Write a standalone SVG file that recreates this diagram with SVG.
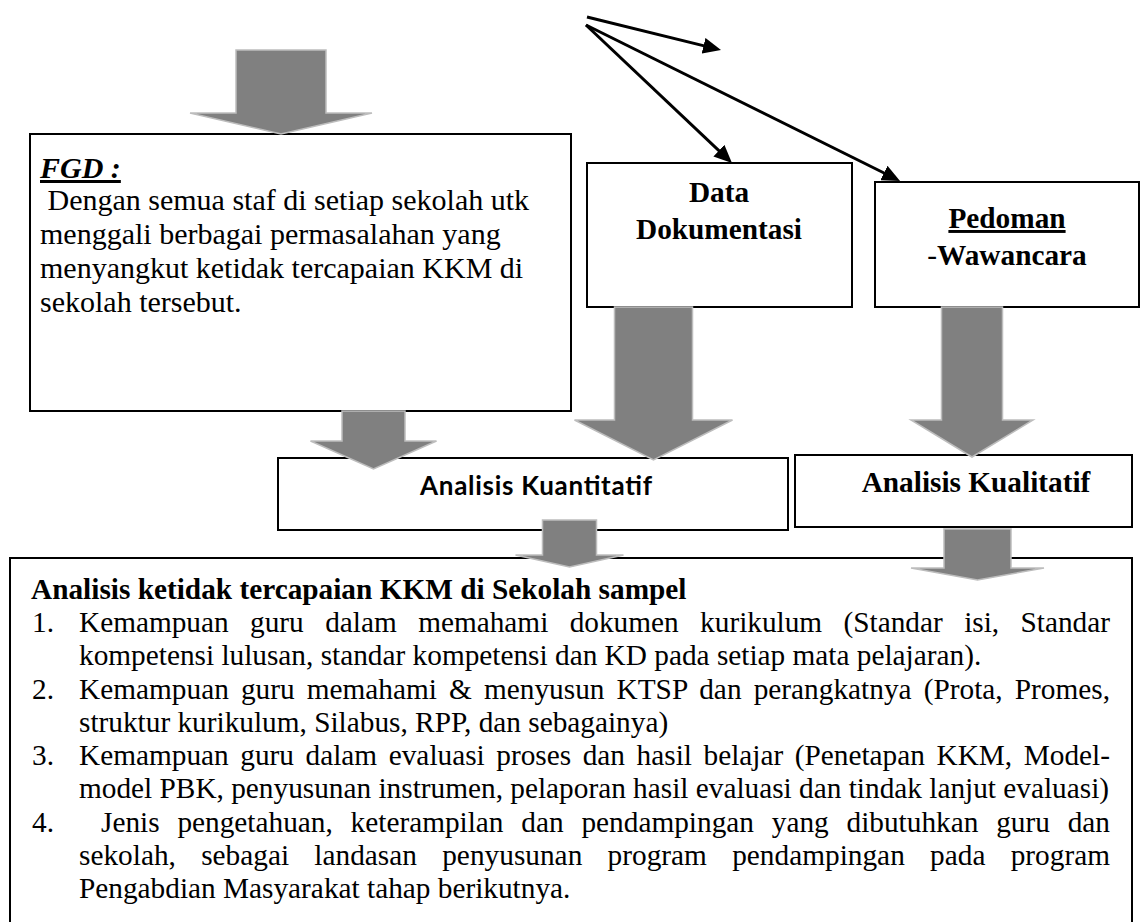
<svg xmlns="http://www.w3.org/2000/svg" width="1144" height="922" viewBox="0 0 1144 922">
<style>
.box{fill:#fff;stroke:#000;stroke-width:2}
.blk{fill:#808080;stroke:#bdbdbd;stroke-width:1.5;stroke-linejoin:miter}
.ln{fill:none;stroke:#000;stroke-width:3}
.tr{font-family:"Liberation Serif","Times New Roman",serif;font-size:29.3px;fill:#000}
.tb{font-family:"Liberation Serif","Times New Roman",serif;font-size:29.3px;font-weight:bold;fill:#000}
.tf{font-family:"Liberation Serif","Times New Roman",serif;font-size:30px;fill:#000}
.ts{font-family:Lato,"Liberation Sans",sans-serif;font-size:26px;font-weight:bold;fill:#000}
</style>
<defs>
<marker id="ah" viewBox="0 0 18 16" refX="8" refY="8" markerWidth="18" markerHeight="16" markerUnits="userSpaceOnUse" orient="auto">
<path d="M0,0 L18,8 L0,16 Z" fill="#000"/>
</marker>
</defs>
<rect width="1144" height="922" fill="#fff"/>

<g id="node-fgd">
<rect class="box" x="30" y="134" width="541" height="277"/>
<text class="tf" x="40" y="178" font-weight="bold" font-style="italic" text-decoration="underline">FGD :</text>
<text class="tf" x="40" y="210" xml:space="preserve"> Dengan semua staf di setiap sekolah utk</text>
<text class="tf" x="40" y="244">menggali berbagai permasalahan yang</text>
<text class="tf" x="40" y="278">menyangkut ketidak tercapaian KKM di</text>
<text class="tf" x="40" y="312">sekolah tersebut.</text>
</g>

<g id="node-data">
<rect class="box" x="587" y="163" width="265" height="144"/>
<text class="tb" x="719" y="202" text-anchor="middle">Data</text>
<text class="tb" x="719" y="239" text-anchor="middle">Dokumentasi</text>
</g>

<g id="node-pedoman">
<rect class="box" x="875" y="182" width="264" height="125"/>
<text class="tb" x="1007" y="228" text-anchor="middle" text-decoration="underline">Pedoman</text>
<text class="tb" x="1007" y="265" text-anchor="middle"><tspan font-weight="normal">-</tspan>Wawancara</text>
</g>

<g id="node-kuantitatif">
<rect class="box" x="278" y="458" width="510" height="72"/>
<text class="ts" x="420" y="495" textLength="232" lengthAdjust="spacing">Analisis Kuantitatif</text>
</g>

<g id="node-kualitatif">
<rect class="box" x="795" y="455" width="337" height="72"/>
<text class="tb" x="976" y="492" text-anchor="middle">Analisis Kualitatif</text>
</g>

<g id="node-analisis">
<rect class="box" x="10" y="558" width="1122" height="370"/>
<text class="tb" x="31" y="599">Analisis ketidak tercapaian KKM di Sekolah sampel</text>
<text class="tr" x="32" y="632">1.</text>
<text class="tr" x="79" y="632" word-spacing="14.1" textLength="1031" lengthAdjust="spacing">Kemampuan guru dalam memahami dokumen kurikulum (Standar isi, Standar</text>
<text class="tr" x="79" y="665.25">kompetensi lulusan, standar kompetensi dan KD pada setiap mata pelajaran).</text>
<text class="tr" x="32" y="698.5">2.</text>
<text class="tr" x="79" y="698.5" word-spacing="4.75" textLength="1031" lengthAdjust="spacing">Kemampuan guru memahami &amp; menyusun KTSP dan perangkatnya (Prota, Promes,</text>
<text class="tr" x="79" y="731.75">struktur kurikulum, Silabus, RPP, dan sebagainya)</text>
<text class="tr" x="32" y="765">3.</text>
<text class="tr" x="79" y="765" word-spacing="4.28" textLength="1031" lengthAdjust="spacing">Kemampuan guru dalam evaluasi proses dan hasil belajar (Penetapan KKM, Model-</text>
<text class="tr" x="79" y="798.25">model PBK, penyusunan instrumen, pelaporan hasil evaluasi dan tindak lanjut evaluasi)</text>
<text class="tr" x="32" y="831.5">4.</text>
<text class="tr" x="101" y="831.5" word-spacing="10.5" textLength="1009" lengthAdjust="spacing">Jenis pengetahuan, keterampilan dan pendampingan yang dibutuhkan guru dan</text>
<text class="tr" x="79" y="864.75" word-spacing="17.9" textLength="1031" lengthAdjust="spacing">sekolah, sebagai landasan penyusunan program pendampingan pada program</text>
<text class="tr" x="79" y="898">Pengabdian Masyarakat tahap berikutnya.</text>
</g>

<g id="connectors">
<line class="ln" x1="587" y1="17" x2="711.3" y2="47.6" marker-end="url(#ah)"/>
<line class="ln" x1="586" y1="25" x2="724.7" y2="156.1" marker-end="url(#ah)"/>
<line class="ln" x1="586" y1="25" x2="891.1" y2="176.5" marker-end="url(#ah)"/>
<polygon class="blk" points="236,50 326,50 326,113 372,113 281,134 190,113 236,113"/>
<polygon class="blk" points="342,411 405,411 405,441 436.5,441 373.5,469 310.5,441 342,441"/>
<polygon class="blk" points="614.5,307 692.5,307 692.5,420 732.5,420 653.5,460 574.5,420 614.5,420"/>
<polygon class="blk" points="941.5,307 1002.5,307 1002.5,420 1033,420 972,457 911,420 941.5,420"/>
<polygon class="blk" points="542.5,520 596.5,520 596.5,555 623.5,555 569.5,567 515.5,555 542.5,555"/>
<polygon class="blk" points="944,529 1011,529 1011,568 1044,568 977.5,580 911,568 944,568"/>
</g>
</svg>
